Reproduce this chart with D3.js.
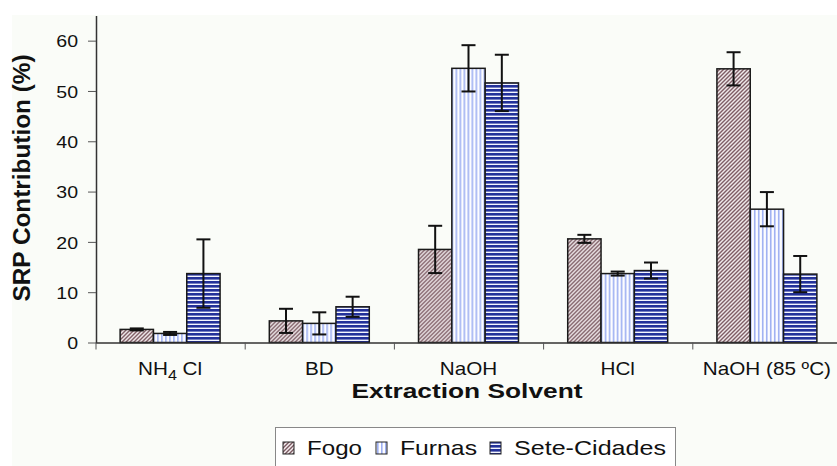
<!DOCTYPE html>
<html>
<head>
<meta charset="utf-8">
<script src="https://cdn.jsdelivr.net/npm/d3@7"></script>
<style>
  body { margin: 0; background: #fff; }
  svg { display: block; font-family: Arial, "Liberation Sans", sans-serif; }
</style>
</head>
<body>
<div id="chart"></div>
<script>
// values
var categories = ["NH4Cl", "BD", "NaOH", "HCl", "NaOH (85 ºC)"];
var series = ["Fogo", "Furnas", "Sete-Cidades"];
var fogo = [2.6, 4.3, 18.5, 20.6, 54.4];
var furnas = [1.8, 3.8, 54.5, 13.7, 26.5];
var sete = [13.7, 7.1, 51.6, 14.3, 13.6];
var fogoErr = [0.2, 2.4, 4.7, 0.8, 3.3];
var furnasErr = [0.3, 2.2, 4.6, 0.4, 3.4];
var seteErr = [6.8, 2.0, 5.6, 1.6, 3.6];
var yTicks = [0, 10, 20, 30, 40, 50, 60];

var W = 837, H = 466;
var SX = 1.15; // the picture's text looks stretched sideways

var svg = d3.select("#chart").append("svg")
    .attr("width", W).attr("height", H);

var defs = svg.append("defs");

// Fogo: fine diagonal hatch
var pf = defs.append("pattern").attr("id", "p-fogo")
    .attr("patternUnits", "userSpaceOnUse").attr("width", 4).attr("height", 4);
pf.append("rect").attr("width", 4).attr("height", 4).attr("fill", "#f4eef0");
pf.append("path").attr("d", "M-1,1 l2,-2 M0,4 l4,-4 M3,5 l2,-2")
    .attr("stroke", "#7a5860").attr("stroke-width", 1.4);

// Furnas: light blue vertical lines
var pu = defs.append("pattern").attr("id", "p-furnas")
    .attr("patternUnits", "userSpaceOnUse").attr("width", 4).attr("height", 4);
pu.append("rect").attr("width", 4).attr("height", 4).attr("fill", "#fdfdff");
pu.append("rect").attr("x", 1).attr("width", 1.6).attr("height", 4).attr("fill", "#9eb0f2");

// Sete-Cidades: navy horizontal lines
var ps = defs.append("pattern").attr("id", "p-sete")
    .attr("patternUnits", "userSpaceOnUse").attr("width", 4).attr("height", 4);
ps.append("rect").attr("width", 4).attr("height", 4).attr("fill", "#f4f6ff");
ps.append("rect").attr("y", 1).attr("width", 4).attr("height", 2.6).attr("fill", "#23319a");

var fills = {"Fogo": "url(#p-fogo)", "Furnas": "url(#p-furnas)", "Sete-Cidades": "url(#p-sete)"};

// faint background of the plot picture
svg.append("rect").attr("x", 12).attr("y", 15).attr("width", W - 12).attr("height", H - 15)
    .attr("fill", "#fafcf8");

var x = d3.scaleBand().domain(categories).range([95.5, 841.5])
    .paddingInner(0.33).paddingOuter(0.165);
var xSub = d3.scaleBand().domain(series).range([0, x.bandwidth()]);
var y = d3.scaleLinear().domain([0, 65]).range([342.5, 15.5]);
var xEdge = d3.scaleLinear().domain([0, categories.length]).range([95.5, 841.5]);

var rows = categories.map(function (c, i) {
  return {cat: c, vals: [
    {s: "Fogo", v: fogo[i], e: fogoErr[i]},
    {s: "Furnas", v: furnas[i], e: furnasErr[i]},
    {s: "Sete-Cidades", v: sete[i], e: seteErr[i]}
  ]};
});

var groups = svg.selectAll("g.grp").data(rows).enter().append("g")
    .attr("class", "grp")
    .attr("transform", function (d) { return "translate(" + x(d.cat) + ",0)"; });

groups.selectAll("rect.bar").data(function (d) { return d.vals; }).enter().append("rect")
    .attr("class", "bar")
    .attr("x", function (d) { return xSub(d.s); })
    .attr("y", function (d) { return y(d.v); })
    .attr("width", xSub.bandwidth())
    .attr("height", function (d) { return y(0) - y(d.v); })
    .attr("fill", function (d) { return fills[d.s]; })
    .attr("stroke", "#1a1a1a").attr("stroke-width", 1.5);

var eb = groups.selectAll("g.err").data(function (d) { return d.vals; }).enter().append("g")
    .attr("class", "err")
    .attr("transform", function (d) { return "translate(" + (xSub(d.s) + xSub.bandwidth() / 2) + ",0)"; })
    .attr("stroke", "#111").attr("stroke-width", 2);
eb.append("line").attr("x1", 0).attr("x2", 0)
    .attr("y1", function (d) { return y(d.v + d.e); })
    .attr("y2", function (d) { return y(d.v - d.e); });
eb.append("line").attr("x1", -7).attr("x2", 7)
    .attr("y1", function (d) { return y(d.v + d.e); })
    .attr("y2", function (d) { return y(d.v + d.e); });
eb.append("line").attr("x1", -7).attr("x2", 7)
    .attr("y1", function (d) { return y(d.v - d.e); })
    .attr("y2", function (d) { return y(d.v - d.e); });

// y axis
var yAxis = svg.append("g").attr("transform", "translate(96,0)")
    .call(d3.axisLeft(y).tickValues(yTicks).tickSizeInner(8).tickSizeOuter(0));
yAxis.select(".domain").attr("stroke", "#333").attr("stroke-width", 1.5);
yAxis.selectAll(".tick line").attr("stroke", "#555");
yAxis.selectAll(".tick text")
    .attr("x", null).attr("dy", "0.36em")
    .attr("transform", "translate(-18,0) scale(" + SX + ",1)")
    .attr("fill", "#111").style("font-size", "17px");

// x axis: line and ticks on category edges
var xAxis = svg.append("g").attr("transform", "translate(0,342.5)")
    .call(d3.axisBottom(xEdge).ticks(categories.length).tickFormat("").tickSizeInner(7).tickSizeOuter(0));
xAxis.select(".domain").attr("stroke", "#333").attr("stroke-width", 1.5);
xAxis.selectAll(".tick line").attr("stroke", "#555");

// category labels
var xLab = svg.append("g").attr("transform", "translate(0,342.5)")
    .call(d3.axisBottom(x).tickSize(0));
xLab.select(".domain").remove();
xLab.selectAll(".tick text")
    .attr("y", null).attr("dy", null)
    .attr("transform", "translate(0,32) scale(" + SX + ",1)")
    .attr("fill", "#111").style("font-size", "18px")
    .each(function (d) {
      if (d === "NH4Cl") {
        var t = d3.select(this).text("NH");
        t.append("tspan").attr("dy", 5).style("font-size", "14px").text("4");
        t.append("tspan").attr("dy", -5).text(" Cl");
      }
    });

// axis titles
svg.append("text")
    .attr("transform", "translate(30,178) rotate(-90) scale(1," + SX + ")")
    .attr("text-anchor", "middle")
    .attr("fill", "#111").style("font-size", "21px").style("font-weight", "bold")
    .attr("textLength", 247).attr("lengthAdjust", "spacingAndGlyphs")
    .text("SRP Contribution (%)");

svg.append("text")
    .attr("x", 467).attr("y", 398)
    .attr("text-anchor", "middle")
    .attr("fill", "#111").style("font-size", "21px").style("font-weight", "bold")
    .attr("textLength", 231).attr("lengthAdjust", "spacingAndGlyphs")
    .text("Extraction Solvent");

// legend
var legend = svg.append("g");
legend.append("rect").attr("x", 275.5).attr("y", 427.5).attr("width", 400).attr("height", 50)
    .attr("fill", "#fff").attr("stroke", "#888").attr("stroke-width", 1);

var legX = [283, 376, 490];
var legW = [55, 77, 152];
var li = legend.selectAll("g.li").data(series).enter().append("g")
    .attr("class", "li")
    .attr("transform", function (d, i) { return "translate(" + legX[i] + ",0)"; });
li.append("rect").attr("x", 0).attr("y", 442).attr("width", 11).attr("height", 12)
    .attr("fill", function (d) { return fills[d]; })
    .attr("stroke", "#222").attr("stroke-width", 1);
li.append("text").attr("x", 24).attr("y", 455)
    .attr("fill", "#111").style("font-size", "21px")
    .attr("textLength", function (d, i) { return legW[i]; })
    .attr("lengthAdjust", "spacingAndGlyphs")
    .text(function (d) { return d; });
</script>
</body>
</html>
